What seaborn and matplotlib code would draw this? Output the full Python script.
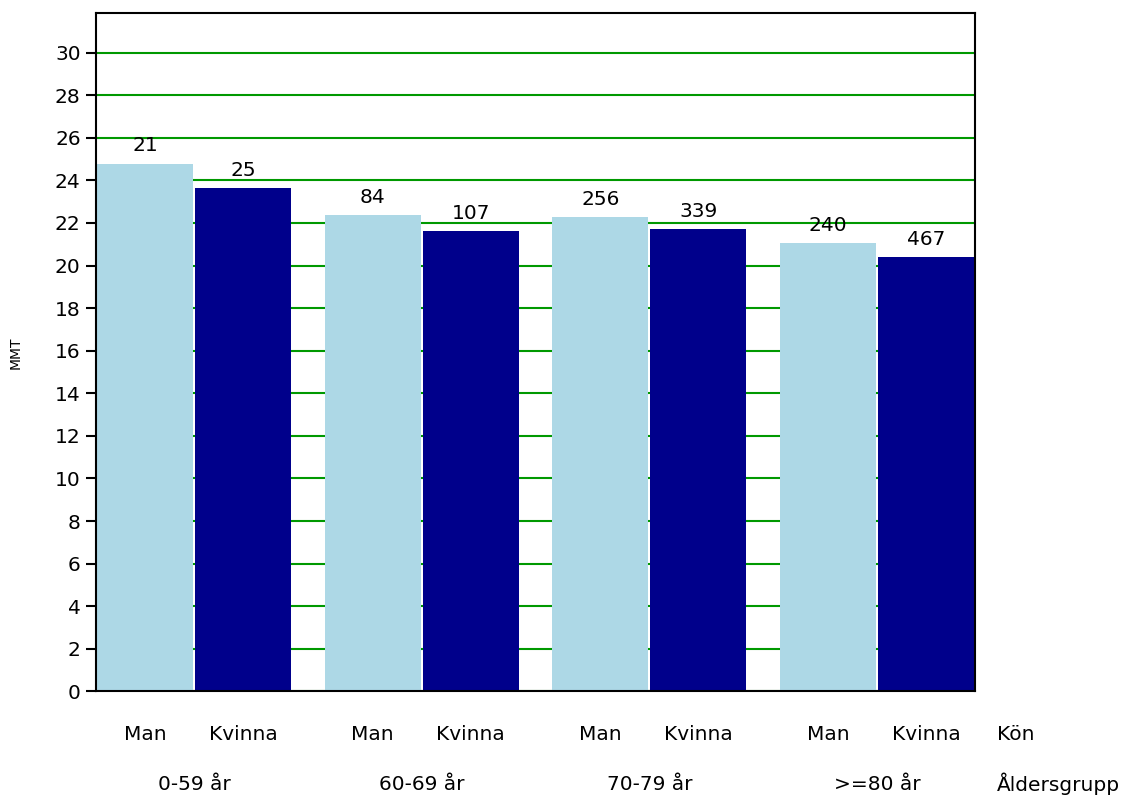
import pandas as pd
import numpy as np
import matplotlib
matplotlib.use('Agg')
import matplotlib.pyplot as plt
import seaborn as sns

# data
grupper = ['0-59 år', '60-69 år', '70-79 år', '>=80 år']
kon = ['Man', 'Kvinna']
mmt_man = [24.78, 22.37, 22.28, 21.06]
mmt_kvinna = [23.65, 21.63, 21.70, 20.40]
antal_man = [21, 84, 256, 240]
antal_kvinna = [25, 107, 339, 467]

df = pd.DataFrame({
    'Aldersgrupp': grupper * 2,
    'Kon': ['Man'] * 4 + ['Kvinna'] * 4,
    'MMT': mmt_man + mmt_kvinna,
})

sns.set_theme(style='white')
plt.rcParams['font.family'] = ['DejaVu Sans']
plt.rcParams['text.color'] = 'black'
plt.rcParams['ytick.color'] = 'black'
plt.rcParams['axes.labelcolor'] = 'black'

fs = 14.5

fig = plt.figure(figsize=(11.36, 7.96), dpi=100)
ax = fig.add_axes([96 / 1136, 1 - 691.3 / 796, (975 - 96) / 1136, (691.3 - 13.3) / 796])

sns.barplot(data=df, x='Aldersgrupp', y='MMT', hue='Kon', hue_order=kon,
            order=grupper, palette=['#ADD8E6', '#00008B'], width=0.86, gap=0.02,
            errorbar=None, legend=False, saturation=1, linewidth=0, ax=ax)

# counts above bars
for cont, labels in zip(ax.containers, [antal_man, antal_kvinna]):
    ax.bar_label(cont, labels=[str(v) for v in labels], padding=6, fontsize=fs)

ax.set_xlim(-0.43, 3.43)
ax.set_ylim(0, 31.85)
ax.set_yticks(np.arange(0, 31, 2))
ax.tick_params(axis='y', labelsize=fs, length=7, width=1.5, direction='out',
               left=True, color='black', pad=4)
ax.tick_params(axis='x', bottom=False, labelbottom=False)
ax.set_xlabel('')
ax.set_ylabel('MMT', fontsize=10, labelpad=23)

ax.yaxis.grid(True, color='#009900', linewidth=1.5)
ax.set_axisbelow(True)
for s in ax.spines.values():
    s.set_visible(True)
    s.set_color('black')
    s.set_linewidth(1.5)

# category labels below the axis
tr = ax.get_xaxis_transform()
off = 0.86 / 4
for i, g in enumerate(grupper):
    ax.text(i - off, -0.063, kon[0], transform=tr, ha='center', va='center', fontsize=fs)
    ax.text(i + off, -0.063, kon[1], transform=tr, ha='center', va='center', fontsize=fs)
    ax.text(i, -0.137, g, transform=tr, ha='center', va='center', fontsize=fs)
ax.text(3.525, -0.063, 'Kön', transform=tr, ha='left', va='center', fontsize=fs)
ax.text(3.525, -0.137, 'Åldersgrupp', transform=tr, ha='left', va='center', fontsize=fs)

fig.savefig('out.png', dpi=100)
